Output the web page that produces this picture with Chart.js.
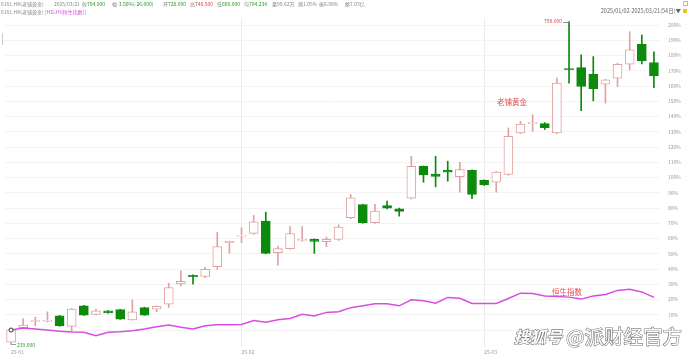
<!DOCTYPE html>
<html><head><meta charset="utf-8">
<script src="https://cdn.jsdelivr.net/npm/chart.js@4/dist/chart.umd.min.js"></script>
<style>
html,body{margin:0;padding:0;background:#fff;width:690px;height:358px;overflow:hidden;}
canvas{display:block;}
</style></head><body>
<canvas id="c" width="690" height="358"></canvas>
<script>
// ---- categories (trading days 2025/01/02 - 2025/03/21) ----
const dates = [
 '01-02','01-03','01-06','01-07','01-08','01-09','01-10','01-13','01-14','01-15','01-16','01-17','01-20','01-21','01-22','01-23','01-24','01-27','01-28',
 '02-03','02-04','02-05','02-06','02-07','02-10','02-11','02-12','02-13','02-14','02-17','02-18','02-19','02-20','02-21','02-24','02-25','02-26','02-27','02-28',
 '03-03','03-04','03-05','03-06','03-07','03-10','03-11','03-12','03-13','03-14','03-17','03-18','03-19','03-20','03-21'
];
// ---- 6181.HK candles, % change (right axis) ----
const open  = [-8.0,1.5,5.6,5.8,9.3,2.4,15.9,10.3,12.6,13.5,6.7,14.8,13.7,17.0,30.3,35.9,35.1,41.6,57.3,61.6,63.4,71.4,50.8,53.4,58.8,59.5,58.0,59.5,73.7,82.2,70.4,81.7,79.5,86.5,107.4,102.2,104.8,100.5,104.8,98.2,96.9,102.0,129.2,135.4,135.3,129.2,171.3,172.1,167.8,161.2,165.2,174.3,187.4,175.4];
const high  = [1.3,7.5,8.5,12.0,9.6,14.2,16.2,13.7,12.8,13.7,19.8,15.0,15.8,30.7,38.8,36.2,41.2,64.2,58.4,67.1,75.2,77.3,55.1,67.8,67.8,59.8,61.0,69.0,88.9,82.5,82.4,84.5,80.0,113.9,107.6,113.9,110.7,110.0,105.0,98.5,104.0,132.5,136.8,141.2,136.0,165.2,202.3,180.4,179.3,164.5,175.0,195.6,193.5,182.5];
const low   = [-9.4,1.2,2.8,5.4,2.5,-0.7,9.6,10.0,11.1,7.0,6.5,9.6,12.0,14.8,29.0,30.1,34.5,39.9,50.3,57.3,62.8,50.0,42.5,53.0,58.2,50.3,54.7,58.8,73.0,70.0,70.0,79.5,74.7,86.0,96.9,93.9,97.6,90.4,86.1,94.8,90.4,101.5,128.8,130.3,131.5,128.8,161.9,143.8,150.3,148.8,159.7,170.6,174.5,159.0];
const close = [0.2,3.3,5.8,6.4,2.8,13.7,9.8,12.6,11.3,7.2,12.0,9.8,15.5,27.9,32.0,34.8,39.9,54.7,58.2,62.3,71.0,50.3,53.4,63.2,59.5,58.2,59.5,67.5,86.7,70.4,78.0,79.9,77.8,107.4,101.8,100.8,103.5,105.2,88.9,95.2,103.5,127.0,135.1,135.9,132.7,161.9,170.8,159.7,158.2,164.1,174.3,183.7,176.7,166.7];
// ---- HSI.HI (恒生指数), % change ----
const hsi = [0,1.3,0.7,0,-0.7,-1.3,-1.5,-3.7,-1.5,-1.1,-0.5,0.7,2.2,3.3,1.8,0.7,2.8,3.5,3.5,3.7,6.3,5.2,6.7,7.6,10.3,9.2,11.6,12.0,14.7,15.9,17.2,17.2,15.9,19.8,19.2,17.6,21.4,20.9,17.5,17.5,17.5,20.7,24.2,24.0,22.4,22.0,21.6,20.3,22.4,23.3,26.0,26.8,25.0,21.4];
// ---- tick labels ----
const yTicks = [0,10,20,30,40,50,60,70,80,90,100,110,120,130,140,150,160,170,180,190,200];
const monthTickIdx = [0,19,39];
const monthTickLabels = ['25-01','25-02','25-03'];
const hiLabel = '798.000';
const loLabel = '239.000';
const hiIdx = 46, loIdx = 0;

const UP = '#dfa2a2', DOWN = '#0c8a0c', HSI_C = '#d64ee0';
const FONT = '"Noto Sans CJK SC","Noto Sans",sans-serif';
const isUp = i => close[i] >= open[i];

const overlay = {
  id:'overlay',
  afterDatasetsDraw(chart){
    const {ctx, scales:{x,y}} = chart;
    ctx.save();
    ctx.textBaseline = 'middle';
    let xh = x.getPixelForValue(hiIdx), yh = y.getPixelForValue(high[hiIdx]);
    ctx.strokeStyle = '#9a9a9a'; ctx.lineWidth = 1;
    ctx.beginPath(); ctx.moveTo(xh-6, Math.round(yh)+0.5); ctx.lineTo(xh, Math.round(yh)+0.5); ctx.stroke();
    ctx.font = '5px '+FONT; ctx.fillStyle = '#d84848'; ctx.textAlign = 'right';
    ctx.fillText(hiLabel, xh-7, yh);
    let xl = x.getPixelForValue(loIdx), yl = y.getPixelForValue(low[loIdx]);
    ctx.beginPath(); ctx.moveTo(xl, Math.round(yl)+0.5); ctx.lineTo(xl+5, Math.round(yl)+0.5); ctx.stroke();
    ctx.fillStyle = '#2f9a2f'; ctx.textAlign = 'left';
    ctx.fillText(loLabel, xl+6, yl+1);
    ctx.font = '7.5px '+FONT; ctx.fillStyle = '#e05050';
    ctx.fillText('老铺黄金', 497, 102);
    ctx.fillText('恒生指数', 552, 292);
    ctx.restore();
  },
  afterDraw(chart){
    const ctx = chart.ctx;
    ctx.save();
    ctx.textBaseline = 'middle'; ctx.textAlign = 'left';
    const seg = (parts, x, yy, size) => {
      ctx.font = size+'px '+FONT;
      for (const [t,c] of parts){ ctx.fillStyle = c; ctx.fillText(t, x, yy); x += ctx.measureText(t).width; }
      return x;
    };
    const G='#888', GR='#1f9a1f', R='#e04040';
    const s = 5;
    seg([['6181.HK(老铺黄金)',G]], 1, 4, s);
    seg([['2025/03/21',G]], 54, 4, s);
    seg([['收',G],['704.000',GR]], 82, 4, s);
    seg([['幅',G],['-3.56%(-26.000)',GR]], 112, 4, s);
    seg([['开',G],['728.000',GR]], 163, 4, s);
    seg([['高',G],['748.500',R]], 190, 4, s);
    seg([['低',G],['680.000',GR]], 217, 4, s);
    seg([['均',G],['704.234',GR]], 244, 4, s);
    seg([['量99.62万',G]], 272, 4, s);
    seg([['换1.05%',G]], 298, 4, s);
    seg([['振6.98%',G]], 319, 4, s);
    seg([['额7.03亿',G]], 345, 4, s);
    let xx = seg([['6181.HK(老铺黄金) ',G]], 1, 12, s);
    seg([['[HSI.HI(恒生指数)]',HSI_C]], xx, 12, s);
    ctx.textAlign = 'right';
    ctx.font = '5.5px '+FONT; ctx.fillStyle = '#666';
    ctx.fillText('2025/01/02-2025/03/21(54日)▼', 681, 11);
    ctx.fillStyle = '#f0c020'; ctx.fillRect(683, 9, 4, 4);
    ctx.strokeStyle = '#bbb'; ctx.lineWidth = 1; ctx.strokeRect(683.5, 1.5, 4, 4);
    ctx.strokeStyle = '#ccc'; ctx.beginPath(); ctx.moveTo(2.5, 33); ctx.lineTo(2.5, 45); ctx.stroke();
    // watermark
    ctx.textAlign = 'left'; ctx.textBaseline = 'alphabetic';
    ctx.lineWidth = 1.2; ctx.strokeStyle = '#7a7a7a'; ctx.fillStyle = '#ffffff';
    ctx.font = 'italic bold 16px '+FONT;
    ctx.strokeText('搜狐号', 514, 343); ctx.fillText('搜狐号', 514, 343);
    ctx.font = '19.5px '+FONT;
    ctx.strokeText('@派财经官方', 566, 344); ctx.fillText('@派财经官方', 566, 344);
    ctx.restore();
  }
};

new Chart(document.getElementById('c'), {
  data: {
    labels: dates,
    datasets: [
      { type:'line', label:'HSI', data: hsi, borderColor: HSI_C, borderWidth: 1.5, tension: 0,
        pointRadius: hsi.map((_,i)=> i===0 ? 2 : 0), pointBorderColor:'#333', pointBackgroundColor:'#fff', pointBorderWidth:1, order: 0 },
      { type:'bar', label:'body', data: dates.map((_,i)=>[open[i], close[i]]),
        backgroundColor: dates.map((_,i)=> isUp(i) ? '#fff' : DOWN),
        borderColor: dates.map((_,i)=> isUp(i) ? UP : DOWN),
        borderWidth: 1, borderSkipped: false, barThickness: 9, grouped: false, minBarLength: 1, order: 1 },
      { type:'bar', label:'wick', data: dates.map((_,i)=>[low[i], high[i]]),
        backgroundColor: dates.map((_,i)=> isUp(i) ? UP : DOWN),
        borderWidth: 0, barThickness: 1, grouped: false, order: 2 }
    ]
  },
  options: {
    responsive: false, animation: false, devicePixelRatio: 1,
    layout: { padding: { left: 1, top: 18, right: 0, bottom: 0 } },
    plugins: { legend: { display: false }, tooltip: { enabled: false } },
    scales: {
      x: { type:'category', offset: true,
        grid: { offset: false, drawTicks: false, color: c => monthTickIdx.slice(1).includes(c.index) ? '#ececec' : 'rgba(0,0,0,0)' },
        border: { display: false },
        ticks: { autoSkip: false, minRotation: 0, maxRotation: 0, align: 'start', padding: 2,
          font: { size: 5, family: FONT }, color: '#999',
          callback: (v,i) => { const k = monthTickIdx.indexOf(i); return k >= 0 ? monthTickLabels[k] : ''; } },
        afterFit: s => { s.height = 10; } },
      y: { position: 'right', min: -11.1, max: 204.6,
        afterBuildTicks: s => { s.ticks = yTicks.map(v => ({ value: v })); },
        grid: { color: '#f3f3f3', drawTicks: false },
        border: { display: false },
        ticks: { padding: 8, font: { size: 5, family: FONT }, color: '#999', callback: v => v + '%' },
        afterFit: s => { s.width = 30; } }
    }
  },
  plugins: [overlay]
});
</script>
</body></html>
